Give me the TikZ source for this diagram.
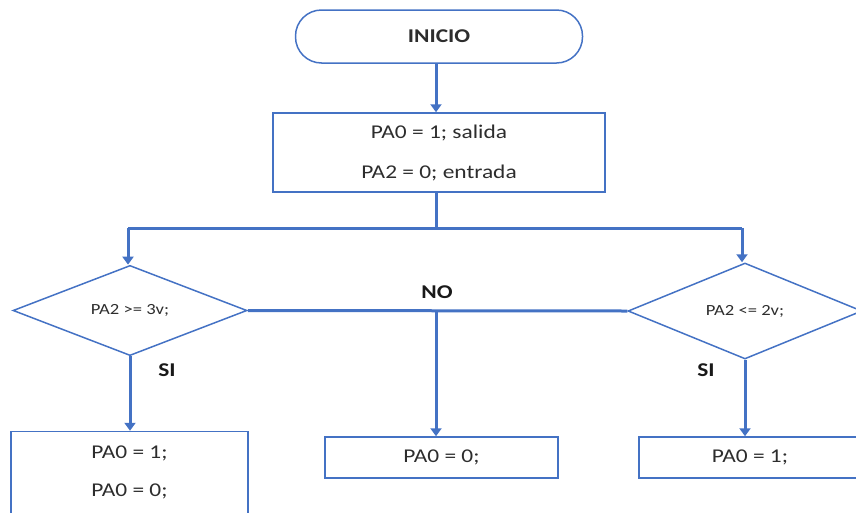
\documentclass[tikz,border=0pt]{standalone}
\usepackage{fontspec}
\setmainfont{Carlito}[FakeStretch=1.2]
\usetikzlibrary{arrows.meta,shapes.geometric}
\definecolor{flowblue}{RGB}{68,114,196}
\definecolor{flowtext}{RGB}{45,45,45}
\newcommand{\mainsize}{\fontsize{19.5}{23}\selectfont}
\newcommand{\smallsize}{\fontsize{15.5}{18}\selectfont}
\tikzset{
  shapebox/.style={draw=flowblue, line width=1.5pt, text=flowtext, font=\mainsize,
    inner sep=0pt, align=center},
  decision/.style={shapebox, diamond, font=\smallsize},
  flowline/.style={draw=flowblue, line width=3pt},
  flowarrow/.style={flowline, -{Triangle[length=8pt,width=11pt]}},
  tag/.style={text=black!90, font=\mainsize\bfseries}
}
\begin{document}
\begin{tikzpicture}[x=1pt, y=-1pt]
	\useasboundingbox (0,0) rectangle (856,512);
	\clip (0,0) rectangle (856,512);

	\node[shapebox, rounded corners=26pt, minimum width=287pt, minimum height=53pt,
	  font=\mainsize\bfseries] (start) at (439,36.5) {INICIO};
	\node[shapebox, minimum width=332pt, minimum height=79pt] (init) at (439,152.5)
	  {PA0 = 1; salida\\[17pt]PA2 = 0; entrada};

	\node[decision, minimum width=234pt, minimum height=85pt] (dl) at (130,310.5) {PA2 >= 3v;};
	\node[decision, minimum width=234pt, minimum height=96pt] (dr) at (745,311) {PA2 <= 2v;};

	\node[shapebox, minimum width=237pt, minimum height=82pt] (outl) at (129.5,472.5)
	  {PA0 = 1;\\[15pt]PA0 = 0;};
	\node[shapebox, minimum width=233pt, minimum height=41pt] (outm) at (441.5,457.5) {PA0 = 0;};
	\node[shapebox, minimum width=222pt, minimum height=41pt] (outr) at (750,457.5) {PA0 = 1;};

	\coordinate (split) at (436,228);
	\coordinate (nosplit) at (436,310.5);

	\draw[flowarrow] (start.south -| split) -- (init.north -| split);
	\draw[flowline] (init.south -| split) -- (split);
	\draw[flowline] (128,228) -- (742,228);
	\draw[flowarrow] (128,228) -- (dl.north -| 128,0);
	\draw[flowarrow] (742,228) -- (dr.north -| 742,0);

	\draw[flowline] (dl.east) -- (dr.west);
	\draw[flowarrow] (nosplit) -- (outm.north -| nosplit);
	\draw[flowarrow] (dl.south) -- (outl.north -| dl.south);
	\draw[flowarrow] (dr.south) -- (outr.north -| dr.south);

	\node[tag] (no) at (437,292) {NO};
	\node[tag] (sil) at (167,370) {SI};
	\node[tag] (sir) at (706,370) {SI};
\end{tikzpicture}
\end{document}
